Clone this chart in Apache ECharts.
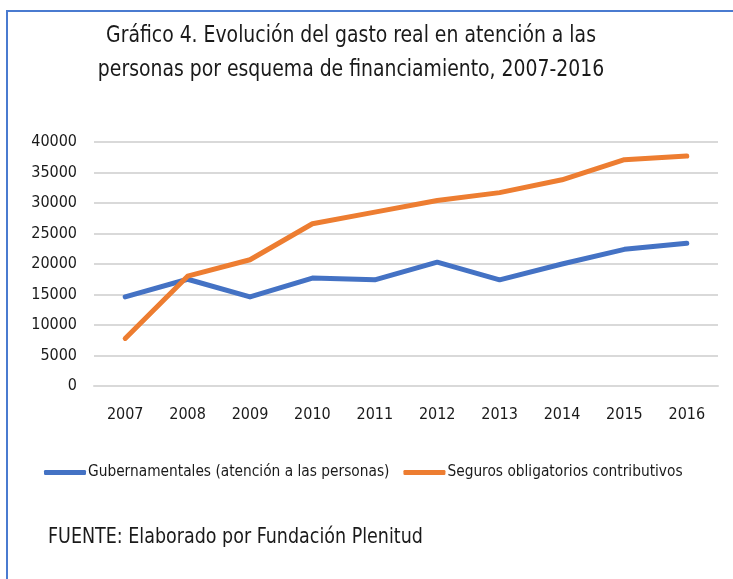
<!DOCTYPE html>
<html>
<head>
<meta charset="utf-8">
<script src="https://cdn.jsdelivr.net/npm/echarts@6/dist/echarts.min.js"></script>
<style>
	html, body { margin: 0; padding: 0; background: #fff; }
	.frame {
		position: absolute;
		left: 6px;
		top: 10px;
		width: 733px;
		height: 579px;
		border-left: 2px solid #4a7bd0;
		border-top: 2px solid #4a7bd0;
	}
	#chart { position: absolute; left: 0; top: 0; width: 733px; height: 579px; }
</style>
</head>
<body>
<div class="frame"></div>
<div id="chart"></div>
<script>
const years = ["2007", "2008", "2009", "2010", "2011", "2012", "2013", "2014", "2015", "2016"];
const gubernamentales = [14600, 17500, 14600, 17700, 17400, 20300, 17400, 20000, 22400, 23400];
const seguros = [7800, 18000, 20700, 26600, 28500, 30400, 31700, 33800, 37100, 37700];
const seriesNames = ["Gubernamentales (atención a las personas)", "Seguros obligatorios contributivos"];
const titleLines = ["Gráfico 4. Evolución del gasto real en atención a las", "personas por esquema de financiamiento, 2007-2016"];

const font = "'DejaVu Sans Condensed', sans-serif";
const txt = "#1a1a1a";
const chart = echarts.init(document.getElementById("chart"));

chart.setOption({
	animation: false,
	graphic: [
		{
			type: "text",
			x: 351,
			y: 36,
			scaleX: 0.91,
			style: { text: titleLines[0], fontFamily: font, fontSize: 23, fill: txt, align: "center", verticalAlign: "middle" }
		},
		{
			type: "text",
			x: 351,
			y: 70,
			scaleX: 0.91,
			style: { text: titleLines[1], fontFamily: font, fontSize: 23, fill: txt, align: "center", verticalAlign: "middle" }
		},
		{
			type: "text",
			x: 48,
			y: 538,
			scaleX: 0.927,
			style: { text: "FUENTE: Elaborado por Fundación Plenitud", fontFamily: font, fontSize: 21, fill: txt, verticalAlign: "middle" }
		}
	],
	legend: {
		left: 44,
		top: 465,
		padding: 0,
		icon: "roundRect",
		itemWidth: 42,
		itemHeight: 5,
		itemGap: 14,
		textStyle: { fontFamily: font, fontSize: 15.3, color: txt, padding: [0, 0, 0, -3] },
		data: seriesNames
	},
	grid: { left: 94, right: 15, top: 142, bottom: 193 },
	xAxis: {
		type: "category",
		data: years,
		boundaryGap: true,
		axisLine: { lineStyle: { color: "#d9d9d9", width: 2 } },
		axisTick: { show: false },
		axisLabel: { fontFamily: font, fontSize: 16, color: txt, margin: 21 }
	},
	yAxis: {
		type: "value",
		min: 0,
		max: 40000,
		interval: 5000,
		axisLine: { show: false },
		axisTick: { show: false },
		axisLabel: { fontFamily: font, fontSize: 16, color: txt, margin: 17, formatter: (v) => String(v) },
		splitLine: { lineStyle: { color: "#d9d9d9", width: 2 } }
	},
	series: [
		{
			name: seriesNames[0],
			type: "line",
			data: gubernamentales,
			symbol: "none",
			lineStyle: { color: "#4472c4", width: 5, cap: "round", join: "round" },
			itemStyle: { color: "#4472c4" }
		},
		{
			name: seriesNames[1],
			type: "line",
			data: seguros,
			symbol: "none",
			lineStyle: { color: "#ed7d31", width: 5, cap: "round", join: "round" },
			itemStyle: { color: "#ed7d31" }
		}
	]
});
</script>
</body>
</html>
